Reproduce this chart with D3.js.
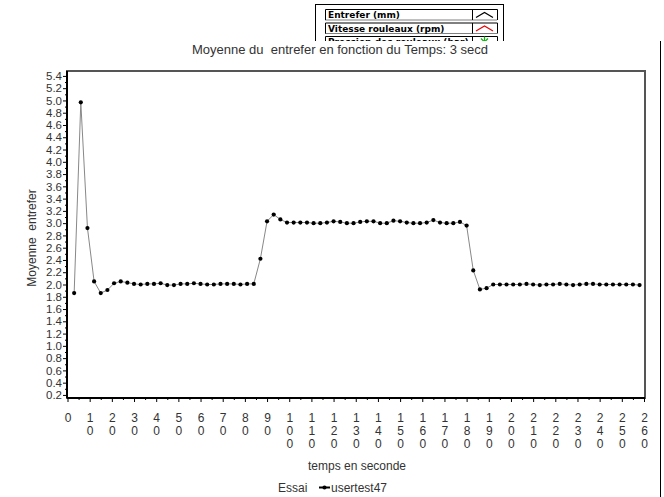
<!DOCTYPE html>
<html>
<head>
<meta charset="utf-8">
<script src="https://cdn.jsdelivr.net/npm/d3@7"></script>
<style>
body { margin: 0; background: #fff; }
svg { display: block; font-family: "Liberation Sans", Arial, sans-serif; }
</style>
</head>
<body>
<svg id="chart" width="664" height="497"></svg>
<script>
// Données (temps en secondes, moyenne de l'entrefer)
var temps = [3, 6, 9, 12, 15, 18, 21, 24, 27, 30, 33, 36, 39, 42, 45, 48, 51, 54, 57, 60,
    63, 66, 69, 72, 75, 78, 81, 84, 87, 90, 93, 96, 99, 102, 105, 108, 111, 114, 117, 120,
    123, 126, 129, 132, 135, 138, 141, 144, 147, 150, 153, 156, 159, 162, 165, 168, 171, 174, 177, 180,
    183, 186, 189, 192, 195, 198, 201, 204, 207, 210, 213, 216, 219, 222, 225, 228, 231, 234, 237, 240,
    243, 246, 249, 252, 255, 258];
var entrefer = [1.86, 4.97, 2.92, 2.05, 1.86, 1.91, 2.02, 2.05, 2.03, 2.01, 2.00, 2.01, 2.01, 2.02, 1.99, 1.99, 2.01, 2.01, 2.02, 2.01,
    2.00, 2.00, 2.01, 2.01, 2.01, 2.00, 2.01, 2.01, 2.42, 3.03, 3.14, 3.06, 3.01, 3.01, 3.01, 3.01, 3.00, 3.00, 3.01, 3.03,
    3.02, 3.00, 3.00, 3.02, 3.03, 3.03, 3.00, 3.00, 3.04, 3.03, 3.01, 3.00, 3.00, 3.01, 3.05, 3.01, 3.00, 3.00, 3.02, 2.96,
    2.23, 1.92, 1.94, 2.00, 2.00, 2.00, 2.00, 2.00, 2.01, 2.00, 1.99, 2.00, 2.00, 2.01, 2.00, 1.99, 2.00, 2.01, 2.01, 2.00,
    2.00, 2.00, 2.00, 2.00, 2.00, 1.99];
var yTicks = [0.2, 0.4, 0.6, 0.8, 1.0, 1.2, 1.4, 1.6, 1.8, 2.0, 2.2, 2.4, 2.6, 2.8, 3.0, 3.2, 3.4, 3.6, 3.8, 4.0,
    4.2, 4.4, 4.6, 4.8, 5.0, 5.2, 5.4];
var xTicks = [0, 10, 20, 30, 40, 50, 60, 70, 80, 90, 100, 110, 120, 130, 140, 150, 160, 170, 180, 190,
    200, 210, 220, 230, 240, 250, 260];
var legendeHaut = ["Entrefer (mm)", "Vitesse rouleaux (rpm)", "Pression des rouleaux (bar)"];
var couleursHaut = ["#000", "#e00", "#0b0"];
var titre = "Moyenne du  entrefer en fonction du Temps: 3 secd";

var svg = d3.select('#chart');

var x = d3.scaleLinear().domain([0, 260]).range([67.5, 644]);
var y = d3.scaleLinear().domain([0.15, 5.48]).range([398, 71]);

// Légende du haut (coupée à y = 41)
svg.append('clipPath').attr('id', 'clipLeg')
    .append('rect').attr('x', 300).attr('y', 0).attr('width', 220).attr('height', 41);
var leg = svg.append('g').attr('clip-path', 'url(#clipLeg)');
leg.append('rect')
    .attr('x', 315.5).attr('y', 4.5).attr('width', 188).attr('height', 60)
    .attr('fill', '#fff').attr('stroke', '#000');
legendeHaut.forEach(function (nom, i) {
    var y0 = 9.5 + i * 13.5;
    leg.append('path')
        .attr('d', `M325.5,${y0 + 10.5}V${y0}H497.5V${y0 + 10.5}`)
        .attr('fill', 'none').attr('stroke', '#000');
    leg.append('line')
        .attr('x1', 325.5).attr('x2', 497.5).attr('y1', y0 + 10.5).attr('y2', y0 + 10.5)
        .attr('stroke', '#000').attr('stroke-dasharray', '1,1');
    leg.append('line')
        .attr('x1', 472.5).attr('x2', 472.5).attr('y1', y0).attr('y2', y0 + 10.5)
        .attr('stroke', '#000');
    leg.append('text')
        .attr('x', 328).attr('y', y0 + 8.5)
        .style('font-family', '"DejaVu Sans", Verdana, sans-serif')
        .style('font-size', '9px').style('font-weight', 'bold')
        .text(nom);
    if (i < 2) {
        leg.append('polyline')
            .attr('points', `476,${y0 + 8} 484.5,${y0 + 3} 493,${y0 + 8}`)
            .attr('fill', 'none').attr('stroke', couleursHaut[i]).attr('stroke-width', 1.2);
    } else {
        leg.append('path')
            .attr('d', `M481,${y0 + 2}L484.5,${y0 + 5.5}L488,${y0 + 2}M484.5,${y0}V${y0 + 5.5}`)
            .attr('fill', 'none').attr('stroke', couleursHaut[i]).attr('stroke-width', 1.2);
    }
});

// Bordure droite extérieure
svg.append('line')
    .attr('x1', 660.5).attr('x2', 660.5).attr('y1', 41).attr('y2', 497)
    .attr('stroke', '#000');

// Titre
svg.append('text')
    .attr('x', 340).attr('y', 53.5)
    .attr('text-anchor', 'middle')
    .attr('fill', '#333')
    .style('font-size', '13px').style('white-space', 'pre')
    .text(titre);

// Cadre
svg.append('rect')
    .attr('x', 67).attr('y', 71).attr('width', 578).attr('height', 327)
    .attr('fill', 'none').attr('stroke', '#555').attr('stroke-width', 2);

// Axe Y
var yAxis = svg.append('g')
    .attr('transform', 'translate(67,0)')
    .call(d3.axisLeft(y).tickValues(yTicks).tickSize(4).tickPadding(1).tickFormat(d3.format('.1f')));
svg.append('g')
    .attr('transform', 'translate(67,0)')
    .call(d3.axisLeft(y).tickValues(yTicks.map(d => d - 0.1).filter(d => d > 0.15)).tickSize(2).tickFormat(''))
    .select('.domain').remove();
yAxis.select('.domain').attr('d', 'M0,71V398').attr('stroke', '#000').attr('stroke-width', 2);
yAxis.selectAll('text')
    .attr('fill', '#333')
    .style('font-family', '"Liberation Sans", Arial, sans-serif')
    .style('font-size', '11.5px');

// Axe X
var xAxis = svg.append('g')
    .attr('transform', 'translate(0,398)')
    .call(d3.axisBottom(x).tickValues(xTicks).tickSize(4).tickFormat(''));
svg.append('g')
    .attr('transform', 'translate(0,398)')
    .call(d3.axisBottom(x).tickValues(xTicks.slice(0, -1).map(d => d + 5)).tickSize(2).tickFormat(''))
    .select('.domain').remove();
xAxis.select('.domain').attr('d', 'M67,0H645').attr('stroke', '#000').attr('stroke-width', 2);
xAxis.selectAll('.tick').each(function (d) {
    var t = d3.select(this).append('text')
        .attr('fill', '#333').attr('text-anchor', 'middle')
        .style('font-family', '"Liberation Sans", Arial, sans-serif')
        .style('font-size', '12px');
    String(d).split('').forEach(function (c, i) {
        t.append('tspan').attr('x', 0).attr('y', 23.5 + i * 13).text(c);
    });
});

// Titres des axes
svg.append('text')
    .attr('transform', 'translate(36,238) rotate(-90)')
    .attr('text-anchor', 'middle').attr('fill', '#333')
    .style('font-size', '12px').style('white-space', 'pre')
    .text('Moyenne  entrefer');
svg.append('text')
    .attr('x', 357).attr('y', 470)
    .attr('text-anchor', 'middle').attr('fill', '#333')
    .style('font-size', '12px')
    .text('temps en seconde');

// Courbe
var points = temps.map((t, i) => [t, entrefer[i]]);
svg.append('path')
    .datum(points)
    .attr('fill', 'none').attr('stroke', '#888').attr('stroke-width', 1)
    .attr('d', d3.line().x(d => x(d[0])).y(d => y(d[1])));
svg.selectAll('.pt')
    .data(points)
    .enter()
    .append('circle')
    .attr('class', 'pt')
    .attr('cx', d => x(d[0])).attr('cy', d => y(d[1]))
    .attr('r', 2.1).attr('fill', '#000');

// Légende du bas
svg.append('text')
    .attr('x', 278).attr('y', 491.5).attr('fill', '#333')
    .style('font-size', '12px').text('Essai');
svg.append('line')
    .attr('x1', 319).attr('x2', 330).attr('y1', 487.5).attr('y2', 487.5)
    .attr('stroke', '#000').attr('stroke-width', 2);
svg.append('circle').attr('cx', 324.5).attr('cy', 487.5).attr('r', 2.1).attr('fill', '#000');
svg.append('text')
    .attr('x', 331).attr('y', 491.5).attr('fill', '#333')
    .style('font-size', '12px').text('usertest47');
</script>
</body>
</html>
